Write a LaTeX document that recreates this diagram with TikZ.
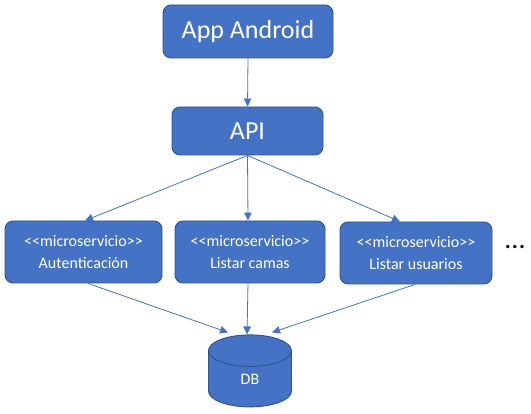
\documentclass[tikz,border=0pt]{standalone}
\usepackage{fontspec}
\setmainfont{Carlito}[Ligatures=TeXOff]
\usetikzlibrary{arrows.meta,shapes.geometric}
\definecolor{boxfill}{HTML}{4472C4}
\definecolor{boxline}{HTML}{2F528F}
\tikzset{
  box/.style={draw=boxline, fill=boxfill, line width=0.9pt, rounded corners=8pt,
    text=white, align=center, inner sep=0pt},
  bigbox/.style={box, font=\fontsize{26}{30}\selectfont},
  msbox/.style={box, minimum height=62pt, font=\fontsize{16}{21}\selectfont},
  conn/.style={draw=boxfill, line width=0.8pt, -{Triangle[length=8pt,width=7.5pt]}},
}
\begin{document}
\begin{tikzpicture}[x=1pt,y=-1pt]
\useasboundingbox (0,0) rectangle (531,414);
\node[bigbox, minimum width=170pt, minimum height=53pt] (app) at (248,31.5) {App Android};
\node[bigbox, minimum width=151pt, minimum height=48pt] (api) at (247.5,131) {API};
\node[msbox, minimum width=157pt] (b1) at (83.5,252) {\raisebox{1pt}{<<microservicio>>}\\Autenticación};
\node[msbox, minimum width=150pt] (b2) at (250,252) {\raisebox{1pt}{<<microservicio>>}\\Listar camas};
\node[msbox, minimum width=152pt] (b3) at (416,253) {\raisebox{1pt}{<<microservicio>>}\\Listar usuarios};
\node[font=\fontsize{28}{30}\selectfont, inner sep=0pt] (dots) at (515,247) {...};
\node[cylinder, shape border rotate=90, aspect=1.7, draw=boxline, fill=boxfill,
  line width=0.9pt, minimum width=83pt, minimum height=72pt, inner sep=0pt,
  text=white, font=\fontsize{16}{20}\selectfont] (db) at (250,379) {\raisebox{-6pt}{DB}};
\draw[conn] (app.south) -- (api.north);
\draw[conn] (api.south) -- ([xshift=1.5pt]b1.north);
\draw[conn] (api.south) -- ([xshift=-2pt]b2.north);
\draw[conn] (api.south) -- ([xshift=-16pt]b3.north);
\draw[conn] ([xshift=4.5pt]b1.south) -- ([xshift=-22pt,yshift=2pt]db.north);
\draw[conn] ([xshift=-2pt]b2.south) -- ([xshift=-3pt]db.north);
\draw[conn] ([xshift=-1pt]b3.south) -- ([xshift=22pt,yshift=2pt]db.north);
\end{tikzpicture}
\end{document}
